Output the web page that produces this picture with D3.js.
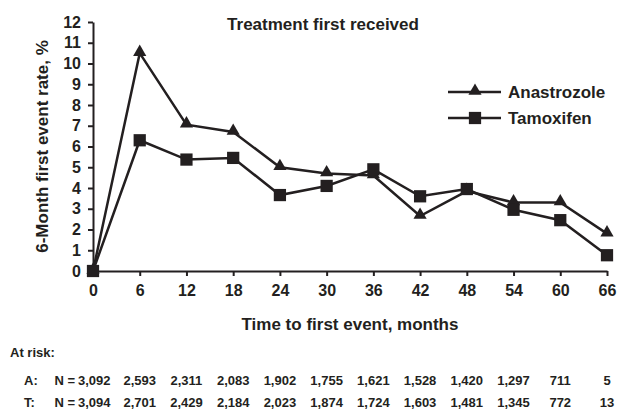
<!DOCTYPE html>
<html>
<head>
<meta charset="utf-8">
<script src="https://cdn.jsdelivr.net/npm/d3@7"></script>
<style>
  body { margin: 0; background: #fff; }
  svg { display: block; font-family: "Liberation Sans", Arial, sans-serif; font-weight: bold; }
  .axis path, .axis line { stroke: #231f20; stroke-width: 2; }
  .axis text { fill: #231f20; font-size: 16px; font-weight: bold; }
</style>
</head>
<body>
<div id="chart"></div>
<script>
// data
var months = [0, 6, 12, 18, 24, 30, 36, 42, 48, 54, 60, 66];
var anastrozole = [0, 10.5, 7.05, 6.7, 5.0, 4.7, 4.6, 2.65, 3.85, 3.3, 3.3, 1.8];
var tamoxifen = [0, 6.3, 5.37, 5.45, 3.66, 4.1, 4.9, 3.6, 3.95, 2.95, 2.45, 0.76];
var yTicks = [0, 1, 2, 3, 4, 5, 6, 7, 8, 9, 10, 11, 12];
var riskA = ["3,092", "2,593", "2,311", "2,083", "1,902", "1,755", "1,621", "1,528", "1,420", "1,297", "711", "5"];
var riskT = ["3,094", "2,701", "2,429", "2,184", "2,023", "1,874", "1,724", "1,603", "1,481", "1,345", "772", "13"];

var ink = "#231f20";
var width = 620, height = 411;

var svg = d3.select("#chart").append("svg")
  .attr("width", width)
  .attr("height", height);

var x = d3.scaleLinear().domain([0, 66]).range([93, 607]);
var y = d3.scaleLinear().domain([0, 12]).range([271, 22]);

// axes
svg.append("g")
  .attr("class", "axis")
  .attr("transform", "translate(0," + y(0) + ")")
  .call(d3.axisBottom(x).tickValues(months).tickSize(5).tickPadding(9).tickSizeOuter(0))
  .call(g => g.selectAll("text").attr("dy", "0.71em"));

svg.append("g")
  .attr("class", "axis")
  .attr("transform", "translate(" + x(0) + ",0)")
  .call(d3.axisLeft(y).tickValues(yTicks).tickSize(5).tickPadding(7).tickSizeOuter(0));

// lines
var line = d3.line()
  .x(function(d, i) { return x(months[i]); })
  .y(function(d) { return y(d); });

[anastrozole, tamoxifen].forEach(function(s) {
  svg.append("path")
    .datum(s)
    .attr("fill", "none")
    .attr("stroke", ink)
    .attr("stroke-width", 2.5)
    .attr("stroke-linejoin", "miter")
    .attr("d", line);
});

var tri = d3.symbol().type(d3.symbolTriangle).size(75);
var sq = d3.symbol().type(d3.symbolSquare).size(150);

svg.selectAll(".tri")
  .data(anastrozole)
  .enter()
  .append("path")
  .attr("class", "tri")
  .attr("fill", ink)
  .attr("transform", function(d, i) { return "translate(" + x(months[i]) + "," + (y(d) - 1) + ")"; })
  .attr("d", tri);

svg.selectAll(".sq")
  .data(tamoxifen)
  .enter()
  .append("path")
  .attr("class", "sq")
  .attr("fill", ink)
  .attr("transform", function(d, i) { return "translate(" + x(months[i]) + "," + y(d) + ")"; })
  .attr("d", sq);

// titles
svg.append("text")
  .attr("x", 323).attr("y", 30)
  .attr("text-anchor", "middle")
  .attr("font-size", 17)
  .attr("fill", ink)
  .text("Treatment first received");

svg.append("text")
  .attr("transform", "translate(48," + ((y(0) + y(12)) / 2) + ") rotate(-90)")
  .attr("text-anchor", "middle")
  .attr("font-size", 17)
  .attr("fill", ink)
  .text("6-Month first event rate, %");

svg.append("text")
  .attr("x", (x(0) + x(66)) / 2).attr("y", 330)
  .attr("text-anchor", "middle")
  .attr("font-size", 17)
  .attr("fill", ink)
  .text("Time to first event, months");

// legend
var legend = [
  { name: "Anastrozole", sym: tri, y: 92, dy: -1 },
  { name: "Tamoxifen", sym: sq, y: 118, dy: 0 }
];
legend.forEach(function(l) {
  svg.append("line")
    .attr("x1", 448).attr("x2", 501)
    .attr("y1", l.y).attr("y2", l.y)
    .attr("stroke", ink).attr("stroke-width", 2.5);
  svg.append("path")
    .attr("fill", ink)
    .attr("transform", "translate(475," + (l.y + l.dy) + ")")
    .attr("d", l.sym);
  svg.append("text")
    .attr("x", 508).attr("y", l.y + 6)
    .attr("font-size", 17)
    .attr("fill", ink)
    .text(l.name);
});

// at risk table
svg.append("text")
  .attr("x", 10).attr("y", 357)
  .attr("font-size", 13)
  .attr("fill", ink)
  .text("At risk:");

[{ key: "A:", vals: riskA, y: 385 }, { key: "T:", vals: riskT, y: 407 }].forEach(function(r) {
  svg.append("text")
    .attr("x", 24).attr("y", r.y)
    .attr("font-size", 13)
    .attr("fill", ink)
    .text(r.key);
  svg.append("text")
    .attr("x", 75).attr("y", r.y)
    .attr("text-anchor", "end")
    .attr("font-size", 13)
    .attr("fill", ink)
    .text("N =");
  svg.selectAll(null)
    .data(r.vals)
    .enter()
    .append("text")
    .attr("x", function(d, i) { return i === 0 ? x(0) - 15 : x(months[i]); })
    .attr("y", r.y)
    .attr("text-anchor", function(d, i) { return i === 0 ? "start" : "middle"; })
    .attr("font-size", 13)
    .attr("fill", ink)
    .text(function(d) { return d; });
});
</script>
</body>
</html>
